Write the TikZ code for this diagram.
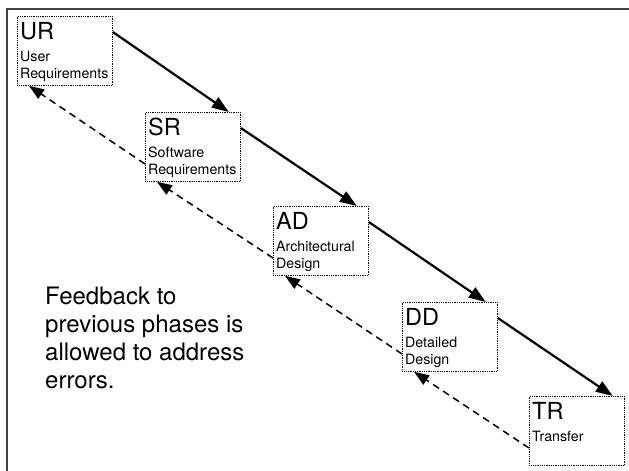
\documentclass[tikz,border=0pt]{standalone}
\usepackage{fontspec}
\setmainfont{TeX Gyre Heros}
\usetikzlibrary{arrows.meta}
\begin{document}
\begin{tikzpicture}[x=1pt,y=-1pt,
  phase/.style={draw, densely dotted, line width=0.8pt, minimum width=95pt, minimum height=69pt, inner sep=0pt, anchor=north west},
  ptitle/.style={font=\fontsize{23.5}{23.5}\selectfont, anchor=base west, inner sep=0pt},
  psub/.style={font=\fontsize{14.2}{17}\selectfont, anchor=base west, inner sep=0pt, align=left},
  fwd/.style={line width=2.2pt, -{Triangle[length=17pt,width=12pt]}},
  back/.style={line width=1.5pt, dash pattern=on 7pt off 5pt, -{Triangle[length=15pt,width=11pt]}}
]
\useasboundingbox (0,0) rectangle (629,471);
\draw[line width=1.3pt, black!75] (629,9) -- (7,9) -- (7,471);

\node[phase] (UR) at (17,16) {};
\node[phase] (SR) at (145,112) {};
\node[phase] (AD) at (273,206) {};
\node[phase] (DD) at (402,302) {};
\node[phase] (TR) at (529,396) {};

\node[ptitle] (URt) at ([xshift=3pt,yshift=-23pt]UR.north west) {UR};
\node[ptitle] (SRt) at ([xshift=3pt,yshift=-23pt]SR.north west) {SR};
\node[ptitle] (ADt) at ([xshift=3pt,yshift=-23pt]AD.north west) {AD};
\node[ptitle] (DDt) at ([xshift=3pt,yshift=-23pt]DD.north west) {DD};
\node[ptitle] (TRt) at ([xshift=3pt,yshift=-23pt]TR.north west) {TR};

\node[psub] (URs) at ([xshift=3pt,yshift=-62pt]UR.north west) {User\\Requirements};
\node[psub] (SRs) at ([xshift=3pt,yshift=-62pt]SR.north west) {Software\\Requirements};
\node[psub] (ADs) at ([xshift=3pt,yshift=-62pt]AD.north west) {Architectural\\Design};
\node[psub] (DDs) at ([xshift=3pt,yshift=-62pt]DD.north west) {Detailed\\Design};
\node[psub] (TRs) at ([xshift=3pt,yshift=-45pt]TR.north west) {Transfer};

\draw[fwd] ([yshift=-16pt]UR.north east) -- ([xshift=-12pt]SR.north east);
\draw[fwd] ([yshift=-16pt]SR.north east) -- ([xshift=-12pt]AD.north east);
\draw[fwd] ([yshift=-16pt]AD.north east) -- ([xshift=-12pt]DD.north east);
\draw[fwd] ([yshift=-16pt]DD.north east) -- ([xshift=-12pt]TR.north east);

\draw[back] ([yshift=-52pt]SR.north west) -- ([xshift=12pt]UR.south west);
\draw[back] ([yshift=-52pt]AD.north west) -- ([xshift=12pt]SR.south west);
\draw[back] ([yshift=-52pt]DD.north west) -- ([xshift=12pt]AD.south west);
\draw[back] ([yshift=-52pt]TR.north west) -- ([xshift=12pt]DD.south west);

\node[anchor=base west, align=left, inner sep=0pt, font=\fontsize{24}{27.7}\selectfont] (fb) at (45,388) {Feedback to\\previous phases is\\allowed to address\\errors.};
\end{tikzpicture}
\end{document}
